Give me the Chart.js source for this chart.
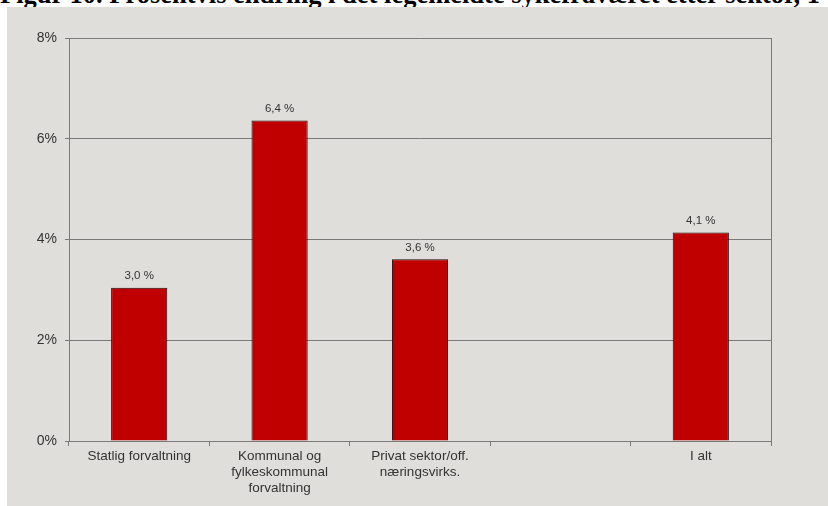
<!DOCTYPE html>
<html>
<head>
<meta charset="utf-8">
<script src="https://cdn.jsdelivr.net/npm/chart.js@4/dist/chart.umd.min.js"></script>
<style>
  html, body { margin: 0; padding: 0; background: #ffffff; }
  body { width: 828px; height: 506px; position: relative; overflow: hidden; }
  #title {
    position: absolute; left: 0; top: -19px; white-space: nowrap; line-height: 26px;
    font-family: "Liberation Serif", "Times New Roman", serif; font-weight: bold; font-size: 26.5px;
    color: #000;
  }
  #panel { position: absolute; left: 7px; top: 7px; width: 821px; height: 499px; background: #dfdeda; }
</style>
</head>
<body>
<div id="title">Figur 10. Prosentvis endring i det legemeldte sykefraværet etter sektor, 1</div>
<div id="panel"><canvas id="chart" width="821" height="499"></canvas></div>
<script>
// sectors (4th slot is an empty gap in the original)
const categories = [
  'Statlig forvaltning',
  ['Kommunal og', 'fylkeskommunal', 'forvaltning'],
  ['Privat sektor/off.', 'næringsvirks.'],
  '',
  'I alt'
];
const changePct = [3.04, 6.36, 3.61, null, 4.14];
const yTicks = [0, 2, 4, 6, 8];

const textColor = '#333333';
const lineColor = '#7a7a7a';

// value labels above bars, "3,0 %"
const barLabels = {
  id: 'barLabels',
  afterDatasetsDraw(chart) {
    const ctx = chart.ctx;
    const meta = chart.getDatasetMeta(0);
    ctx.save();
    ctx.font = '11.5px "Liberation Sans", Arial, sans-serif';
    ctx.fillStyle = textColor;
    ctx.textAlign = 'center';
    ctx.textBaseline = 'bottom';
    meta.data.forEach((bar, i) => {
      const v = changePct[i];
      if (v == null) return;
      ctx.fillText(v.toFixed(1).replace('.', ',') + ' %', bar.x, bar.y - 6);
    });
    ctx.restore();
  }
};

// grey line on the right side of the plot area
const plotFrame = {
  id: 'plotFrame',
  afterDraw(chart) {
    const a = chart.chartArea;
    const ctx = chart.ctx;
    ctx.save();
    ctx.strokeStyle = lineColor;
    ctx.lineWidth = 1;
    ctx.beginPath();
    ctx.moveTo(Math.round(a.right) + 0.5, Math.round(a.top));
    ctx.lineTo(Math.round(a.right) + 0.5, Math.round(a.bottom) + 5);
    ctx.stroke();
    ctx.restore();
  }
};

new Chart(document.getElementById('chart'), {
  type: 'bar',
  data: {
    labels: categories,
    datasets: [{
      data: changePct,
      backgroundColor: '#c00000',
      borderColor: '#1e0a0a',
      borderWidth: 1,
      borderSkipped: 'bottom',
      categoryPercentage: 1.0,
      barPercentage: 0.4
    }]
  },
  options: {
    responsive: false,
    animation: false,
    layout: { padding: { left: 0, right: 57, top: 31, bottom: 0 } },
    plugins: {
      legend: { display: false },
      tooltip: { enabled: false }
    },
    scales: {
      x: {
        grid: {
          offset: true,
          drawOnChartArea: false,
          drawTicks: true,
          tickLength: 5,
          color: lineColor
        },
        border: { color: lineColor },
        ticks: {
          color: textColor,
          font: { family: '"Liberation Sans", Arial, sans-serif', size: 13.5, lineHeight: 1.15 },
          padding: 3,
          maxRotation: 0,
          autoSkip: false
        },
        afterFit(scale) { scale.height = 65; }
      },
      y: {
        min: 0,
        max: 8,
        afterBuildTicks(scale) { scale.ticks = yTicks.map(v => ({ value: v })); },
        grid: {
          color: lineColor,
          tickLength: 4,
          drawTicks: true
        },
        border: { color: lineColor },
        ticks: {
          color: textColor,
          font: { family: '"Liberation Sans", Arial, sans-serif', size: 14 },
          padding: 8,
          callback: v => v + '%'
        },
        afterFit(scale) { scale.width = 62; }
      }
    }
  },
  plugins: [barLabels, plotFrame]
});
</script>
</body>
</html>
